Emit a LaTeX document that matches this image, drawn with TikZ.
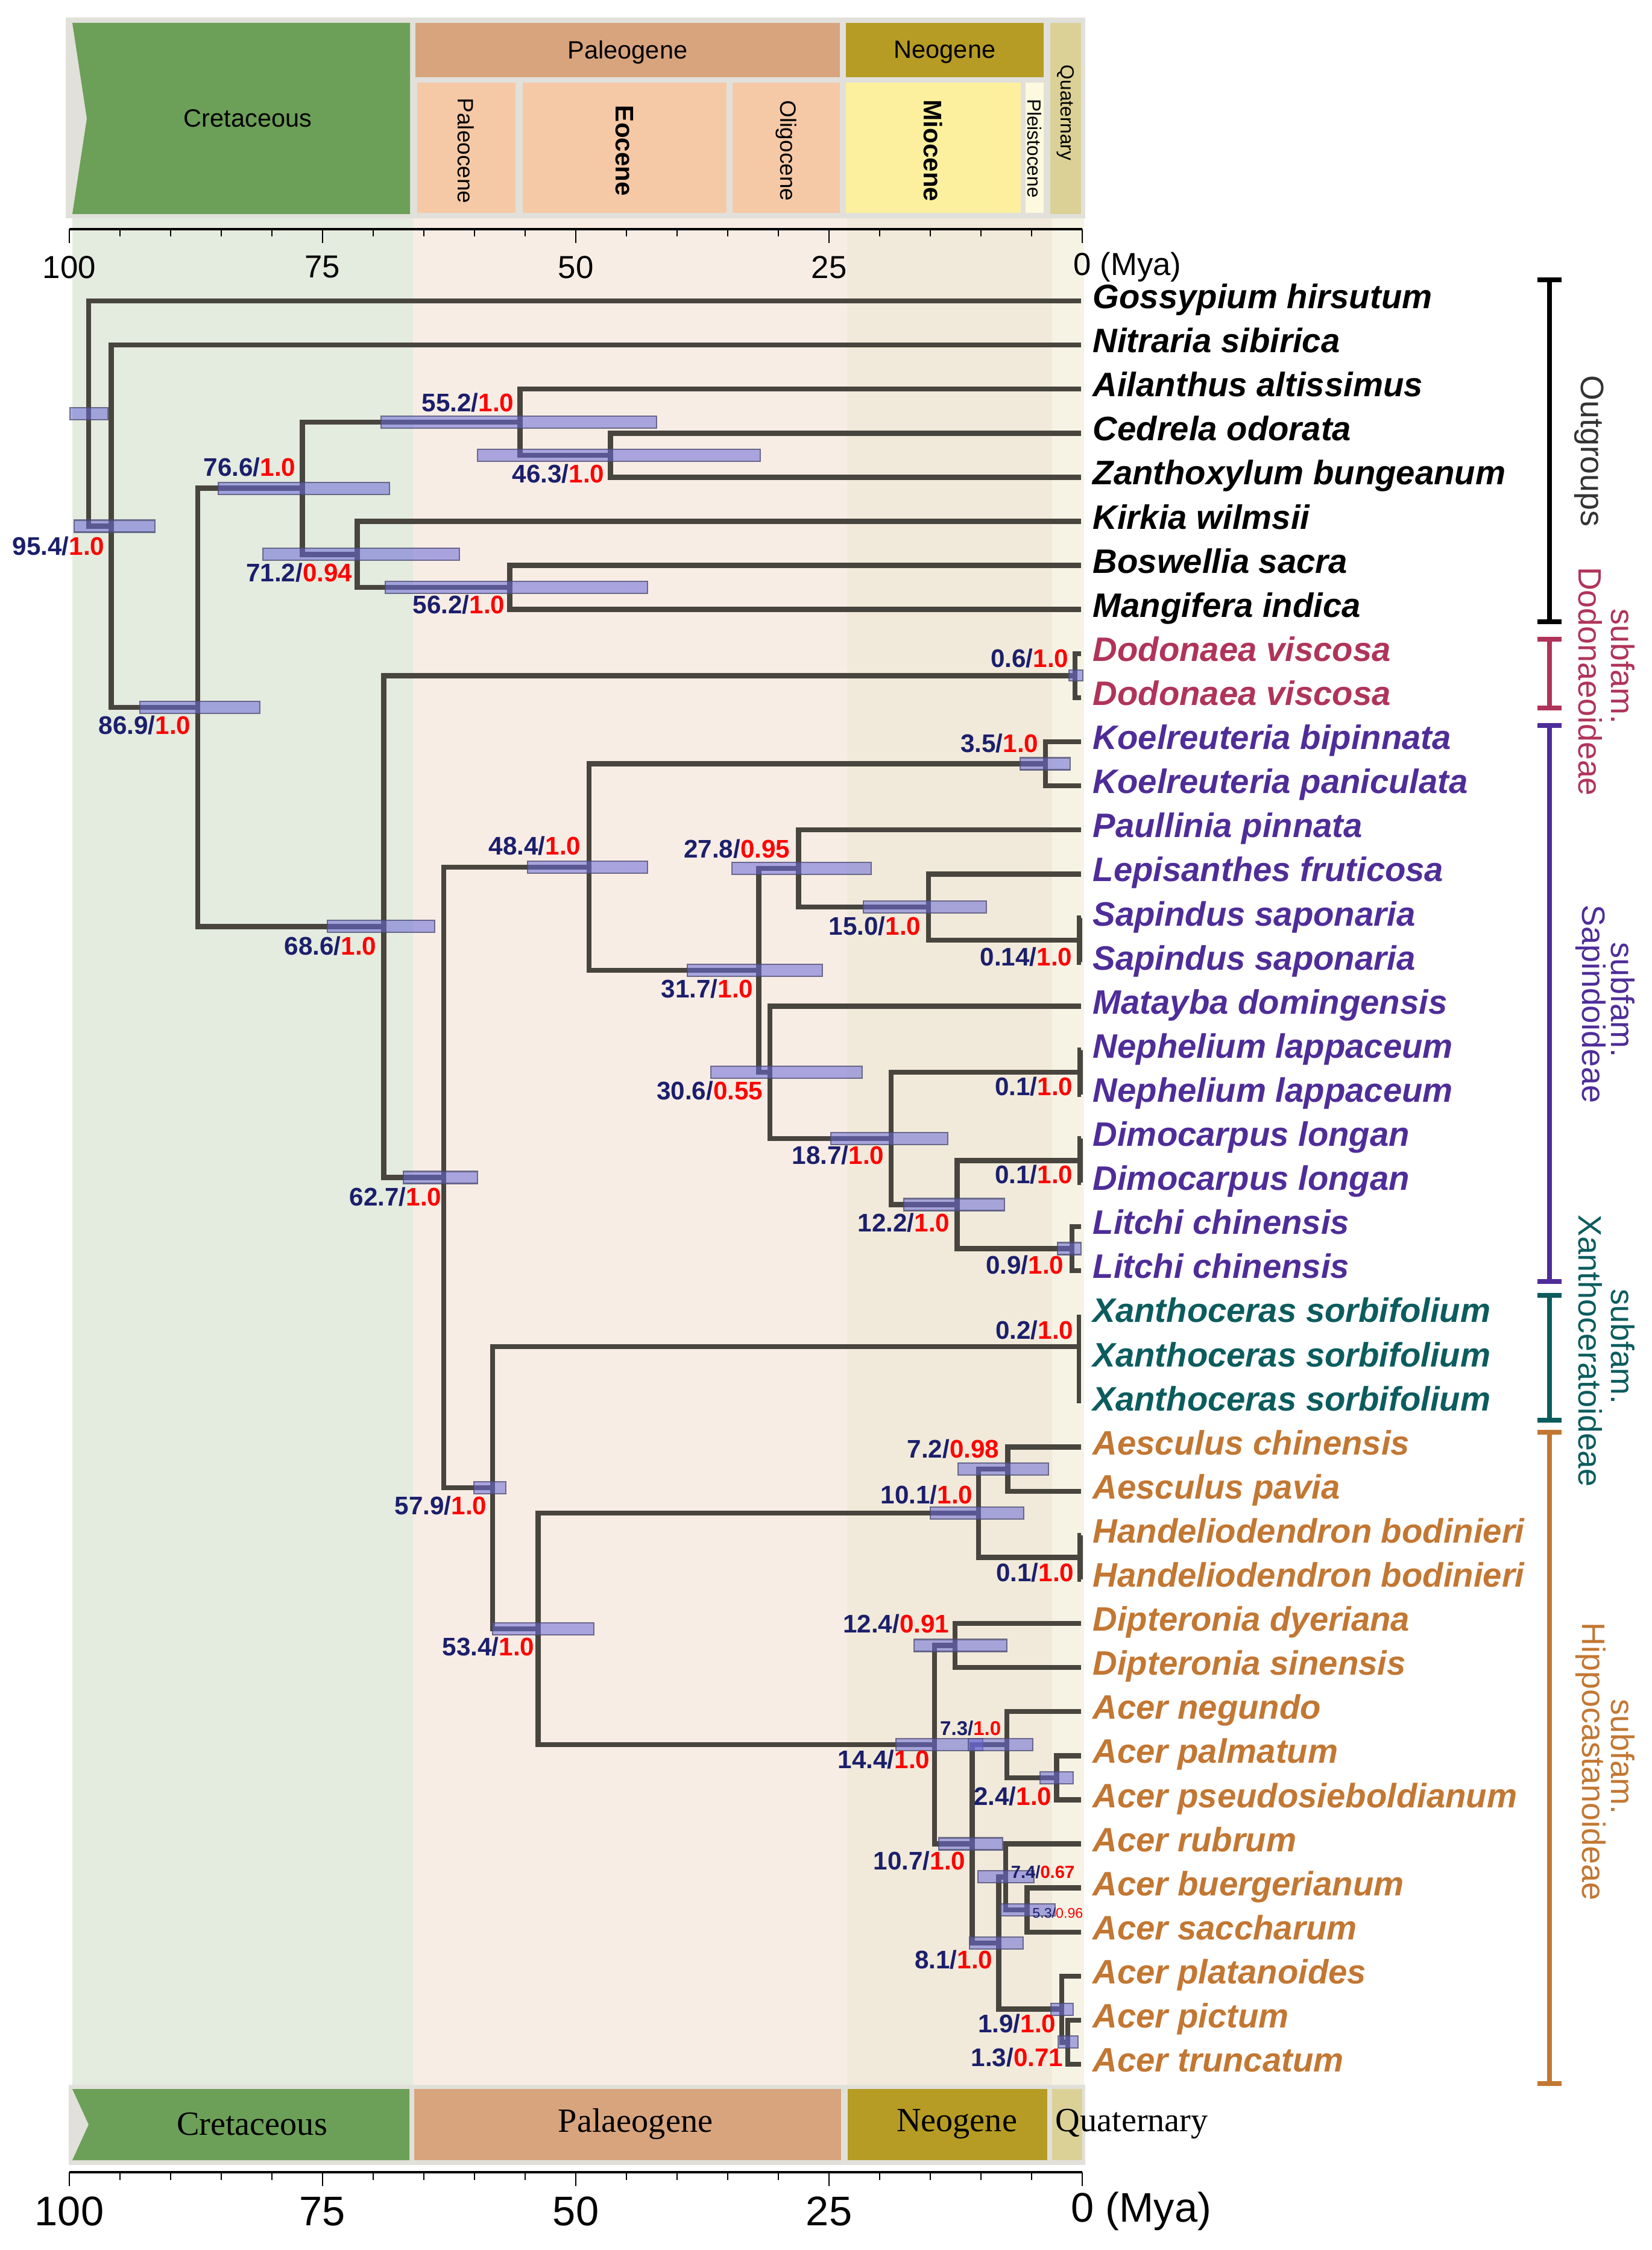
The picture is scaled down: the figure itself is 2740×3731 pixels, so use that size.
\documentclass[tikz,border=0pt]{standalone}
\usepackage{fontspec}
\setmainfont{Liberation Sans}
\newfontfamily\serifbox{Liberation Serif}
\newcommand\myfs[1]{\fontsize{#1}{#1}\selectfont}
\newcommand\hpdlab[2]{{\color{navy}#1/}{\color{sred}#2}}
\definecolor{treeline}{HTML}{48453E}
\definecolor{hpdfill}{RGB}{105,105,215}
\definecolor{hpdedge}{HTML}{4A4A70}
\definecolor{navy}{HTML}{1B1F6B}
\definecolor{sred}{HTML}{FF0000}
\definecolor{cdod}{HTML}{B0345A}
\definecolor{csap}{HTML}{4E2D98}
\definecolor{cxan}{HTML}{0C5C5E}
\definecolor{chip}{HTML}{C27733}
\definecolor{frame}{HTML}{E1E0DA}
\definecolor{cret}{HTML}{6CA058}
\definecolor{palband}{HTML}{D8A47E}
\definecolor{epoch}{HTML}{F6C9A6}
\definecolor{neog}{HTML}{B69C24}
\definecolor{mioc}{HTML}{FCF09E}
\definecolor{plio}{HTML}{FDF9DE}
\definecolor{quat}{HTML}{DBD197}
\definecolor{bgcret}{HTML}{E4EBDF}
\definecolor{bgpal}{HTML}{F8EDE5}
\definecolor{bgneo}{HTML}{F1EADA}
\definecolor{bgqua}{HTML}{F6F3E5}
\begin{document}
\begin{tikzpicture}[x=0.01cm,y=-0.01cm,
  branch/.style={draw=treeline,line width=2.4pt},
  hpd/.style={fill=hpdfill,fill opacity=0.55,draw=hpdedge,draw opacity=0.75,line width=0.7pt},
  tax/.style={anchor=west,inner sep=0pt,text height=0.716em,text depth=0pt,font=\myfs{16pt}\bfseries\itshape},
  nlab/.style={anchor=east,inner sep=0pt,text height=0.716em,text depth=0pt,font=\myfs{12pt}\bfseries},
  slab/.style={anchor=east,inner sep=0pt,text height=0.716em,text depth=0pt,font=\myfs{9.4pt}\bfseries},
  hdr/.style={inner sep=0pt,font=\myfs{11.8pt}},
  vhdr/.style={inner sep=0pt,rotate=-90},
  bhdr/.style={inner sep=0pt,font=\myfs{16pt}\serifbox},
  axlab/.style={inner sep=0pt,font=\myfs{15pt}},
  baxlab/.style={inner sep=0pt,font=\myfs{19.5pt}},
  brk/.style={line width=2.2pt},
  grp/.style={inner sep=0pt,rotate=-90,font=\myfs{15.3pt}},
  tick/.style={line width=0.5pt,black},
  majtick/.style={line width=0.8pt,black},
  axline/.style={line width=0.9pt,black}]
\useasboundingbox (0,0) rectangle (2740,3731);
\fill[white] (0,0) rectangle (2740,3731);
% background bands
\fill[bgcret] (120,360) rectangle (685,3457);
\fill[bgpal] (685,360) rectangle (1405,3457);
\fill[bgneo] (1405,360) rectangle (1745,3457);
\fill[bgqua] (1745,360) rectangle (1798,3457);
% top header
\fill[frame] (109,29) rectangle (1800,362);
\fill[cret] (120,38) -- (680,38) -- (680,355) -- (120,355) -- (144,196.5) -- cycle;
\fill[palband] (689,38) rectangle (1393,128);
\fill[epoch] (692,137) rectangle (855,353);
\fill[epoch] (867,137) rectangle (1205,353);
\fill[epoch] (1215,137) rectangle (1393,353);
\fill[neog] (1403,38) rectangle (1731,128);
\fill[mioc] (1403,137) rectangle (1693,353);
\fill[plio] (1701,137) rectangle (1731,353);
\fill[quat] (1742,38) rectangle (1793,355);
\node[hdr] (hcret) at (411,196) {Cretaceous};
\node[hdr] (hpal) at (1041,87) {Paleogene};
\node[hdr] (hneo) at (1567,87) {Neogene};
\node[vhdr,font=\myfs{10.5pt}] (hpaleoc) at (773,250) {Paleocene};
\node[vhdr,font=\myfs{12pt}\bfseries] (heoc) at (1036,250) {Eocene};
\node[vhdr,font=\myfs{10.5pt}] (holig) at (1304,250) {Oligocene};
\node[vhdr,font=\myfs{12pt}\bfseries] (hmioc) at (1548,250) {Miocene};
\node[vhdr,font=\myfs{9pt}] (hpleis) at (1716,246) {Pleistocene};
\node[vhdr,font=\myfs{9pt}] (hquat) at (1767,187) {Quaternary};
% top axis
\draw[axline] (115,380) -- (1795,380);
\foreach \a in {0,5,...,100} \draw[tick] ({1795-16.8*\a},380) -- ++(0,12);
\foreach \a in {0,25,50,75,100} \draw[majtick] ({1795-16.8*\a},380) -- ++(0,23);
\node[axlab] (ta100) at (115,443) {100};
\node[axlab] (ta75) at (535,443) {75};
\node[axlab] (ta50) at (955,443) {50};
\node[axlab] (ta25) at (1375,443) {25};
\node[axlab,anchor=west] (ta0) at (1780,443) {0 (Mya)};
% bottom header
\fill[frame] (114,3457) rectangle (1800,3590);
\fill[cret] (120,3464) -- (679,3464) -- (679,3582) -- (120,3582) -- (147,3523) -- cycle;
\fill[palband] (687,3464) rectangle (1395,3582);
\fill[neog] (1406,3464) rectangle (1737,3582);
\fill[quat] (1745,3464) rectangle (1795,3582);
\node[bhdr] (bcret) at (418,3522) {Cretaceous};
\node[bhdr] (bpal) at (1054,3522) {Palaeogene};
\node[bhdr] (bneo) at (1587,3522) {Neogene};
\node[bhdr,anchor=west] (bquat) at (1750,3522) {Quaternary};
% bottom axis
\draw[axline] (115,3602) -- (1795,3602);
\foreach \a in {0,5,...,100} \draw[tick] ({1795-16.8*\a},3602) -- ++(0,13);
\foreach \a in {0,25,50,75,100} \draw[majtick] ({1795-16.8*\a},3602) -- ++(0,23);
\node[baxlab] (ba100) at (115,3667) {100};
\node[baxlab] (ba75) at (535,3667) {75};
\node[baxlab] (ba50) at (955,3667) {50};
\node[baxlab] (ba25) at (1375,3667) {25};
\node[baxlab,anchor=west] (ba0) at (1776,3667) {0 (Mya)};
% tips
\foreach \i in {0,...,40} \coordinate (t\i) at (1793,{499+73.1*\i});
% internal nodes
\coordinate (nR) at (147,685.8);
\coordinate (n95) at (184.6,872.55);
\coordinate (n87) at (327.9,1173.0);
\coordinate (n77) at (501.5,809.65);
\coordinate (n55) at (862.3,700.0);
\coordinate (n46) at (1012.4,754.85);
\coordinate (n71) at (592.6,919.3);
\coordinate (n56) at (845.5,974.15);
\coordinate (n69) at (636.4,1536.4);
\coordinate (n06) at (1782.9,1120.35);
\coordinate (n63) at (735.9,1952.5);
\coordinate (n48) at (977,1437.9);
\coordinate (n35) at (1734,1266.55);
\coordinate (n32) at (1258.5,1609.2);
\coordinate (n28) at (1324.3,1440.15);
\coordinate (n15) at (1540.1,1504.1);
\coordinate (n014) at (1790.6,1558.95);
\coordinate (n31) at (1277.1,1778.25);
\coordinate (n19) at (1477.7,1887.9);
\coordinate (n01a) at (1791.3,1778.25);
\coordinate (n12) at (1587.3,1997.55);
\coordinate (n01b) at (1791.3,1924.45);
\coordinate (n09) at (1777.8,2070.65);
\coordinate (n58) at (816.8,2467.05);
\coordinate (n02) at (1789.6,2233);
\coordinate (n53) at (892.7,2701.1);
\coordinate (n10) at (1622.7,2509.25);
\coordinate (n72) at (1671.6,2436.15);
\coordinate (n01c) at (1791.3,2582.35);
\coordinate (n14) at (1550.2,2893.0);
\coordinate (n124) at (1583.9,2728.55);
\coordinate (n107) at (1612.6,3057.5);
\coordinate (n73) at (1669.9,2893.0);
\coordinate (n24) at (1752.5,2947.85);
\coordinate (n81) at (1656.4,3221.95);
\coordinate (n74) at (1668.2,3112.3);
\coordinate (n53b) at (1703.6,3167.15);
\coordinate (n19b) at (1761,3331.6);
\coordinate (n13) at (1771.1,3386.45);
% branches
\draw[branch] (t0) -| (nR) |- (n95);
\draw[branch] (t1) -| (n95) |- (n87);
\draw[branch] (n77) -| (n87) |- (n69);
\draw[branch] (n55) -| (n77) |- (n71);
\draw[branch] (t2) -| (n55) |- (n46);
\draw[branch] (t3) -| (n46) |- (t4);
\draw[branch] (t5) -| (n71) |- (n56);
\draw[branch] (t6) -| (n56) |- (t7);
\draw[branch] (n06) -| (n69) |- (n63);
\draw[branch] (t8) -| (n06) |- (t9);
\draw[branch] (n48) -| (n63) |- (n58);
\draw[branch] (n35) -| (n48) |- (n32);
\draw[branch] (t10) -| (n35) |- (t11);
\draw[branch] (n28) -| (n32) |- (n31);
\draw[branch] (t12) -| (n28) |- (n15);
\draw[branch] (t13) -| (n15) |- (n014);
\draw[branch] (t14) -| (n014) |- (t15);
\draw[branch] (t16) -| (n31) |- (n19);
\draw[branch] (n01a) -| (n19) |- (n12);
\draw[branch] (t17) -| (n01a) |- (t18);
\draw[branch] (n01b) -| (n12) |- (n09);
\draw[branch] (t19) -| (n01b) |- (t20);
\draw[branch] (t21) -| (n09) |- (t22);
\draw[branch] (n02) -| (n58) |- (n53);
\draw[branch,line width=1.8pt] (n02 |- t23) -- (n02 |- t25);
\draw[branch] (n10) -| (n53) |- (n14);
\draw[branch] (n72) -| (n10) |- (n01c);
\draw[branch] (t26) -| (n72) |- (t27);
\draw[branch] (t28) -| (n01c) |- (t29);
\draw[branch] (n124) -| (n14) |- (n107);
\draw[branch] (t30) -| (n124) |- (t31);
\draw[branch] (n73) -| (n107) |- (n81);
\draw[branch] (t32) -| (n73) |- (n24);
\draw[branch] (t33) -| (n24) |- (t34);
\draw[branch] (n74) -| (n81) |- (n19b);
\draw[branch] (t35) -| (n74) |- (n53b);
\draw[branch] (t36) -| (n53b) |- (t37);
\draw[branch] (t38) -| (n19b) |- (n13);
\draw[branch] (t39) -| (n13) |- (t40);
% HPD boxes
\draw[hpd] (116,675.8) rectangle (179,695.8);
\draw[hpd] (123,862.5) rectangle (257,882.5);
\draw[hpd] (232,1163) rectangle (431,1183);
\draw[hpd] (362,800) rectangle (646,820);
\draw[hpd] (632,690) rectangle (1089,710);
\draw[hpd] (792,745) rectangle (1261,765);
\draw[hpd] (436,909) rectangle (762,929);
\draw[hpd] (639,964) rectangle (1074,984);
\draw[hpd] (543,1526) rectangle (721,1546);
\draw[hpd] (875,1428) rectangle (1074,1448);
\draw[hpd] (1773,1111) rectangle (1796,1129);
\draw[hpd] (1692,1256.5) rectangle (1775,1276.5);
\draw[hpd] (1214,1430) rectangle (1445,1450);
\draw[hpd] (1432,1494) rectangle (1636,1514);
\draw[hpd] (1140,1599) rectangle (1364,1619);
\draw[hpd] (1179,1768) rectangle (1430,1788);
\draw[hpd] (1378,1878) rectangle (1572,1898);
\draw[hpd] (1499,1987.5) rectangle (1666,2007.5);
\draw[hpd] (1754,2060.7) rectangle (1793,2080.7);
\draw[hpd] (669,1942.5) rectangle (792,1962.5);
\draw[hpd] (786,2457) rectangle (839,2477);
\draw[hpd] (817,2691) rectangle (985,2711);
\draw[hpd] (1589,2426) rectangle (1739,2446);
\draw[hpd] (1543,2499) rectangle (1698,2519);
\draw[hpd] (1516,2718.5) rectangle (1670,2738.5);
\draw[hpd] (1486,2883) rectangle (1630,2903);
\draw[hpd] (1606,2883) rectangle (1713,2903);
\draw[hpd] (1725,2938) rectangle (1780,2958);
\draw[hpd] (1557,3047.5) rectangle (1663,3067.5);
\draw[hpd] (1622,3102) rectangle (1715,3122);
\draw[hpd] (1660,3157) rectangle (1750,3177);
\draw[hpd] (1608,3212) rectangle (1697,3232);
\draw[hpd] (1743,3322) rectangle (1780,3342);
\draw[hpd] (1755,3376) rectangle (1788,3396);
% node labels
\node[nlab] (l95) at (174,908) {\hpdlab{95.4}{1.0}};
\node[nlab] (l77) at (491,777) {\hpdlab{76.6}{1.0}};
\node[nlab] (l55) at (853,670) {\hpdlab{55.2}{1.0}};
\node[nlab] (l46) at (1003,788) {\hpdlab{46.3}{1.0}};
\node[nlab] (l71) at (585,952) {\hpdlab{71.2}{0.94}};
\node[nlab] (l56) at (838,1005) {\hpdlab{56.2}{1.0}};
\node[nlab] (l87) at (317,1205) {\hpdlab{86.9}{1.0}};
\node[nlab] (l69) at (625,1571) {\hpdlab{68.6}{1.0}};
\node[nlab] (l48) at (964,1405) {\hpdlab{48.4}{1.0}};
\node[nlab] (l28) at (1311,1410) {\hpdlab{27.8}{0.95}};
\node[nlab] (l32) at (1250,1642) {\hpdlab{31.7}{1.0}};
\node[nlab] (l31) at (1266,1811) {\hpdlab{30.6}{0.55}};
\node[nlab] (l35) at (1723,1235) {\hpdlab{3.5}{1.0}};
\node[nlab] (l15) at (1528,1538) {\hpdlab{15.0}{1.0}};
\node[nlab] (l014) at (1779,1589) {\hpdlab{0.14}{1.0}};
\node[nlab] (l19) at (1467,1918) {\hpdlab{18.7}{1.0}};
\node[nlab] (l01a) at (1780,1804) {\hpdlab{0.1}{1.0}};
\node[nlab] (l12) at (1576,2030) {\hpdlab{12.2}{1.0}};
\node[nlab] (l01b) at (1780,1950) {\hpdlab{0.1}{1.0}};
\node[nlab] (l09) at (1765,2100) {\hpdlab{0.9}{1.0}};
\node[nlab] (l06) at (1773,1094) {\hpdlab{0.6}{1.0}};
\node[nlab] (l63) at (733,1987) {\hpdlab{62.7}{1.0}};
\node[nlab] (l58) at (808,2499) {\hpdlab{57.9}{1.0}};
\node[nlab] (l53) at (887,2733) {\hpdlab{53.4}{1.0}};
\node[nlab] (l02) at (1781,2208) {\hpdlab{0.2}{1.0}};
\node[nlab] (l72) at (1658,2405) {\hpdlab{7.2}{0.98}};
\node[nlab] (l10) at (1614,2481) {\hpdlab{10.1}{1.0}};
\node[nlab] (l01c) at (1782,2610) {\hpdlab{0.1}{1.0}};
\node[nlab] (l124) at (1575,2695) {\hpdlab{12.4}{0.91}};
\node[nlab] (l14) at (1543,2920) {\hpdlab{14.4}{1.0}};
\node[slab] (l73) at (1661,2865) {\hpdlab{7.3}{1.0}};
\node[nlab] (l24) at (1745,2981) {\hpdlab{2.4}{1.0}};
\node[nlab] (l107) at (1602,3088) {\hpdlab{10.7}{1.0}};
\node[anchor=east,inner sep=0pt,text height=0.716em,text depth=0pt,font=\myfs{8.3pt}\bfseries] (l74) at (1783,3102) {\hpdlab{7.4}{0.67}};
\node[anchor=east,inner sep=0pt,text height=0.716em,text depth=0pt,font=\myfs{6.6pt}] (l53b) at (1797,3168) {\hpdlab{5.3}{0.96}};
\node[nlab] (l81) at (1647,3252) {\hpdlab{8.1}{1.0}};
\node[nlab] (l19b) at (1752,3358) {\hpdlab{1.9}{1.0}};
\node[nlab] (l13) at (1764,3414) {\hpdlab{1.3}{0.71}};
% taxon labels
\node[tax] (x0) at (1812,499) {Gossypium hirsutum};
\node[tax] (x1) at (1812,572.1) {Nitraria sibirica};
\node[tax] (x2) at (1812,645.2) {Ailanthus altissimus};
\node[tax] (x3) at (1812,718.3) {Cedrela odorata};
\node[tax] (x4) at (1812,791.4) {Zanthoxylum bungeanum};
\node[tax] (x5) at (1812,864.5) {Kirkia wilmsii};
\node[tax] (x6) at (1812,937.6) {Boswellia sacra};
\node[tax] (x7) at (1812,1010.7) {Mangifera indica};
\node[tax,cdod] (x8) at (1812,1083.8) {Dodonaea viscosa};
\node[tax,cdod] (x9) at (1812,1156.9) {Dodonaea viscosa};
\node[tax,csap] (x10) at (1812,1230) {Koelreuteria bipinnata};
\node[tax,csap] (x11) at (1812,1303.1) {Koelreuteria paniculata};
\node[tax,csap] (x12) at (1812,1376.2) {Paullinia pinnata};
\node[tax,csap] (x13) at (1812,1449.3) {Lepisanthes fruticosa};
\node[tax,csap] (x14) at (1812,1522.4) {Sapindus saponaria};
\node[tax,csap] (x15) at (1812,1595.5) {Sapindus saponaria};
\node[tax,csap] (x16) at (1812,1668.6) {Matayba domingensis};
\node[tax,csap] (x17) at (1812,1741.7) {Nephelium lappaceum};
\node[tax,csap] (x18) at (1812,1814.8) {Nephelium lappaceum};
\node[tax,csap] (x19) at (1812,1887.9) {Dimocarpus longan};
\node[tax,csap] (x20) at (1812,1961) {Dimocarpus longan};
\node[tax,csap] (x21) at (1812,2034.1) {Litchi chinensis};
\node[tax,csap] (x22) at (1812,2107.2) {Litchi chinensis};
\node[tax,cxan] (x23) at (1812,2180.3) {Xanthoceras sorbifolium};
\node[tax,cxan] (x24) at (1812,2253.4) {Xanthoceras sorbifolium};
\node[tax,cxan] (x25) at (1812,2326.5) {Xanthoceras sorbifolium};
\node[tax,chip] (x26) at (1812,2399.6) {Aesculus chinensis};
\node[tax,chip] (x27) at (1812,2472.7) {Aesculus pavia};
\node[tax,chip] (x28) at (1812,2545.8) {Handeliodendron bodinieri};
\node[tax,chip] (x29) at (1812,2618.9) {Handeliodendron bodinieri};
\node[tax,chip] (x30) at (1812,2692) {Dipteronia dyeriana};
\node[tax,chip] (x31) at (1812,2765.1) {Dipteronia sinensis};
\node[tax,chip] (x32) at (1812,2838.2) {Acer negundo};
\node[tax,chip] (x33) at (1812,2911.3) {Acer palmatum};
\node[tax,chip] (x34) at (1812,2984.4) {Acer pseudosieboldianum};
\node[tax,chip] (x35) at (1812,3057.5) {Acer rubrum};
\node[tax,chip] (x36) at (1812,3130.6) {Acer buergerianum};
\node[tax,chip] (x37) at (1812,3203.7) {Acer saccharum};
\node[tax,chip] (x38) at (1812,3276.8) {Acer platanoides};
\node[tax,chip] (x39) at (1812,3349.9) {Acer pictum};
\node[tax,chip] (x40) at (1812,3423) {Acer truncatum};
% group brackets
\draw[brk,black] (2550,464) -- (2590,464) (2570,464) -- (2570,1031) (2550,1031) -- (2590,1031);
\draw[brk,cdod] (2550,1060) -- (2590,1060) (2570,1060) -- (2570,1174) (2550,1174) -- (2590,1174);
\draw[brk,csap] (2550,1203) -- (2590,1203) (2570,1203) -- (2570,2125) (2550,2125) -- (2590,2125);
\draw[brk,cxan] (2550,2148) -- (2590,2148) (2570,2148) -- (2570,2355) (2550,2355) -- (2590,2355);
\draw[brk,chip] (2550,2375) -- (2590,2375) (2570,2375) -- (2570,3455) (2550,3455) -- (2590,3455);
\node[grp,text=black!80] (gout) at (2636,748) {Outgroups};
\node[grp,cdod] (gdod1) at (2692,1105) {subfam.};
\node[grp,cdod] (gdod2) at (2638,1130) {Dodonaeoideae};
\node[grp,csap] (gsap1) at (2692,1658) {subfam.};
\node[grp,csap] (gsap2) at (2638,1665) {Sapindoideae};
\node[grp,cxan] (gxan1) at (2692,2233) {subfam.};
\node[grp,cxan] (gxan2) at (2638,2240) {Xanthoceratoideae};
\node[grp,chip] (ghip1) at (2692,2913) {subfam.};
\node[grp,chip] (ghip2) at (2638,2921) {Hippocastanoideae};
\end{tikzpicture}
\end{document}
